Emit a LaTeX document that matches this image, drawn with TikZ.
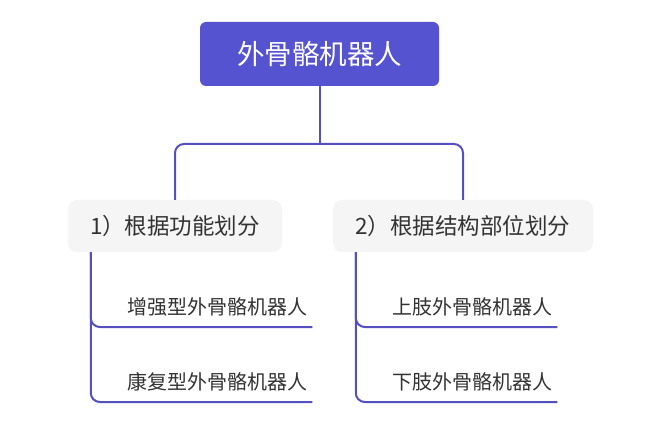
\documentclass[tikz,border=0pt]{standalone}
\usepackage{fontspec}
\setmainfont{Noto Sans CJK SC}
\definecolor{rootfill}{RGB}{85,83,208}
\definecolor{linecol}{RGB}{84,80,192}
\definecolor{catfill}{RGB}{245,245,245}
\definecolor{txt}{RGB}{51,51,51}
\begin{document}
\begin{tikzpicture}[x=1pt,y=-1pt,
  rootbox/.style={fill=rootfill, rounded corners=6pt, minimum width=239pt, minimum height=64pt, inner sep=0pt, text=white, font=\fontsize{27.5}{32}\selectfont},
  catbox/.style={fill=catfill, rounded corners=9pt, minimum height=52pt, inner sep=0pt, text=txt, font=\fontsize{22.5}{26}\selectfont},
  leaf/.style={anchor=south west, inner sep=0pt, minimum height=40pt, align=left, text=txt, font=\fontsize{20}{24}\selectfont},
  conn/.style={draw=linecol, line width=2pt, rounded corners=9pt}]
\useasboundingbox (0,0) rectangle (646,425);
\fill[white] (0,0) rectangle (646,425);
\node[rootbox] (root) at (319.5,54) {外骨骼机器人};
\node[catbox, minimum width=214pt] (c1) at (175,226) {1）根据功能划分};
\node[catbox, minimum width=260pt] (c2) at (463,226) {2）根据结构部位划分};
\node[leaf, text width=185pt] (l1) at (127,327) {增强型外骨骼机器人};
\node[leaf, text width=185pt] (l2) at (127,402) {康复型外骨骼机器人};
\node[leaf, text width=165pt] (l3) at (392,327) {上肢外骨骼机器人};
\node[leaf, text width=165pt] (l4) at (392,402) {下肢外骨骼机器人};
\coordinate (mid) at (319.5,144);
\draw[conn] (root.south) -- (mid);
\draw[conn] (c1.north) |- (c2.north |- mid) -- (c2.north);
\draw[conn] ([xshift=23pt]c1.south west) |- (l1.south east);
\draw[conn] ([xshift=23pt]c1.south west) |- (l2.south east);
\draw[conn] ([xshift=23pt]c2.south west) |- (l3.south east);
\draw[conn] ([xshift=23pt]c2.south west) |- (l4.south east);
\end{tikzpicture}
\end{document}
